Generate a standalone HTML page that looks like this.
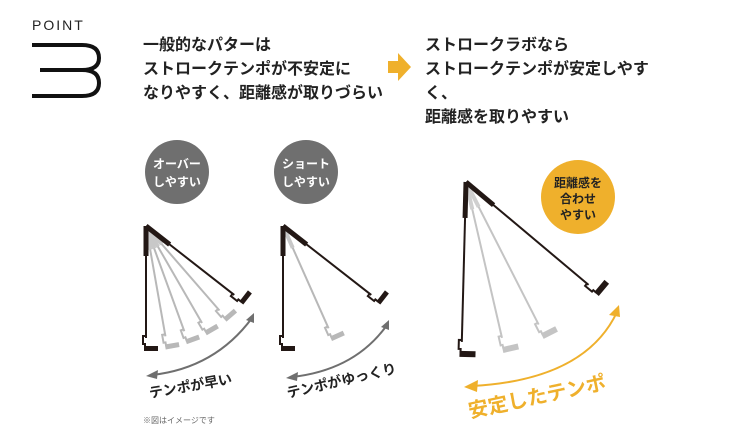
<!DOCTYPE html>
<html><head><meta charset="utf-8"><style>
html,body{margin:0;padding:0;background:#fff;}
body{width:750px;height:433px;position:relative;overflow:hidden;font-family:"Liberation Sans","Noto Sans CJK JP",sans-serif;}
.t{position:absolute;font-weight:bold;font-size:16px;line-height:24px;color:#222;white-space:nowrap;}
</style></head><body>
<svg width="750" height="433" style="position:absolute;left:0;top:0" font-family="Liberation Sans, Noto Sans CJK JP, sans-serif">
<defs>
<g id="pb">
 <rect x="-2.5" y="0" width="5" height="30" fill="#231815"/>
 <line x1="0" y1="0" x2="0" y2="112" stroke="#231815" stroke-width="2"/>
 <path d="M0 110 h-3 v8 h2 v4" fill="none" stroke="#231815" stroke-width="2"/>
 <rect x="-2" y="120" width="14" height="5" fill="#231815"/>
</g>
<g id="pg">
 <line x1="0" y1="0" x2="0" y2="112" stroke="#b8b8b8" stroke-width="2"/>
 <rect x="-2" y="0" width="4" height="24" fill="#c8c8c8"/>
 <path d="M0 110 h-3 v8 h2 v4" fill="none" stroke="#b8b8b8" stroke-width="2"/>
 <rect x="-2" y="120" width="14" height="5" fill="#b8b8b8"/>
</g>
<g id="rb">
 <rect x="-2.5" y="0" width="5" height="36" fill="#231815"/>
 <line x1="0" y1="0" x2="0" y2="160" stroke="#231815" stroke-width="2"/>
 <path d="M0 158 h-3 v9 h2 v4" fill="none" stroke="#231815" stroke-width="2"/>
 <rect x="-2" y="169" width="16" height="6" fill="#231815"/>
</g>
<g id="rg">
 <line x1="0" y1="0" x2="0" y2="160" stroke="#c4c4c4" stroke-width="2"/>
 <rect x="-2" y="0" width="4" height="28" fill="#cfcfcf"/>
 <path d="M0 158 h-3 v9 h2 v4" fill="none" stroke="#c4c4c4" stroke-width="2"/>
 <rect x="-2" y="169" width="16" height="6" fill="#c4c4c4"/>
</g>
</defs>
<text x="32" y="30" font-size="14" letter-spacing="2" fill="#222" font-family="Liberation Sans, sans-serif">POINT</text>
<path d="M32 45 H82 Q99 45 99 58 Q99 70 82 70 H40 M82 70 Q99 70 99 83 Q99 96 82 96 H32" fill="none" stroke="#111" stroke-width="4"/>
<path d="M388 61 H398 V53 L411 67 L398 81 V73 H388 Z" fill="#efb02c"/>
<circle cx="177" cy="172" r="32" fill="#6f6f6f"/>
<text x="177" y="168" font-size="12" font-weight="bold" fill="#fff" text-anchor="middle">オーバー</text>
<text x="177" y="186" font-size="12" font-weight="bold" fill="#fff" text-anchor="middle">しやすい</text>
<circle cx="306" cy="172" r="32" fill="#6f6f6f"/>
<text x="306" y="168" font-size="12" font-weight="bold" fill="#fff" text-anchor="middle">ショート</text>
<text x="306" y="186" font-size="12" font-weight="bold" fill="#fff" text-anchor="middle">しやすい</text>
<circle cx="578" cy="197" r="37" fill="#efb02c"/>
<text x="578" y="187" font-size="12" font-weight="bold" fill="#222" text-anchor="middle">距離感を</text>
<text x="578" y="203" font-size="12" font-weight="bold" fill="#222" text-anchor="middle">合わせ</text>
<text x="578" y="219" font-size="12" font-weight="bold" fill="#222" text-anchor="middle">やすい</text>
<use href="#pg" transform="translate(146,226) rotate(-10)"/>
<use href="#pg" transform="translate(146,226) rotate(-20)"/>
<use href="#pg" transform="translate(146,226) rotate(-30)"/>
<use href="#pg" transform="translate(146,226) rotate(-41)"/>
<use href="#pb" transform="translate(146,226)"/>
<use href="#pb" transform="translate(146,226) rotate(-52)"/>
<path d="M152 375 Q215 368 252 318" fill="none" stroke="#6f6f6f" stroke-width="2"/>
<path d="M146 376 L158 370 L157 379 Z" fill="#6f6f6f"/>
<path d="M254 313 L246 320 L254 323 Z" fill="#6f6f6f"/>
<text transform="translate(150,398) rotate(-10)" font-size="14" font-weight="bold" fill="#222">テンポが早い</text>
<use href="#pg" transform="translate(283,226) rotate(-24)"/>
<use href="#pb" transform="translate(283,226)"/>
<use href="#pb" transform="translate(283,226) rotate(-52)"/>
<path d="M292 377 Q355 370 387 325" fill="none" stroke="#6f6f6f" stroke-width="2"/>
<path d="M286 378 L298 372 L297 381 Z" fill="#6f6f6f"/>
<path d="M389 320 L381 327 L389 330 Z" fill="#6f6f6f"/>
<text transform="translate(288,398) rotate(-13)" font-size="14" font-weight="bold" fill="#222">テンポがゆっくり</text>
<use href="#rg" transform="translate(466,182) rotate(-13)"/>
<use href="#rg" transform="translate(466,182) rotate(-27)"/>
<use href="#rb" transform="translate(466,182) rotate(1.5)"/>
<use href="#rb" transform="translate(466,182) rotate(-50)"/>
<path d="M472 386 Q585 380 617 312" fill="none" stroke="#efb02c" stroke-width="2"/>
<path d="M464 387 L478 380 L477 392 Z" fill="#efb02c"/>
<path d="M619 305 L609 315 L620 317 Z" fill="#efb02c"/>
<text transform="translate(470,418) rotate(-12)" font-size="20" font-weight="bold" fill="#efb02c">安定したテンポ</text>
<text x="143" y="423" font-size="8" fill="#666">※図はイメージです</text>
</svg>
<div class="t" style="left:143px;top:34px;">一般的なパターは<br>ストロークテンポが不安定に<br>なりやすく、距離感が取りづらい</div>
<div class="t" style="left:425px;top:34px;">ストロークラボなら<br>ストロークテンポが安定しやす<br>く、<br>距離感を取りやすい</div>
</body></html>
